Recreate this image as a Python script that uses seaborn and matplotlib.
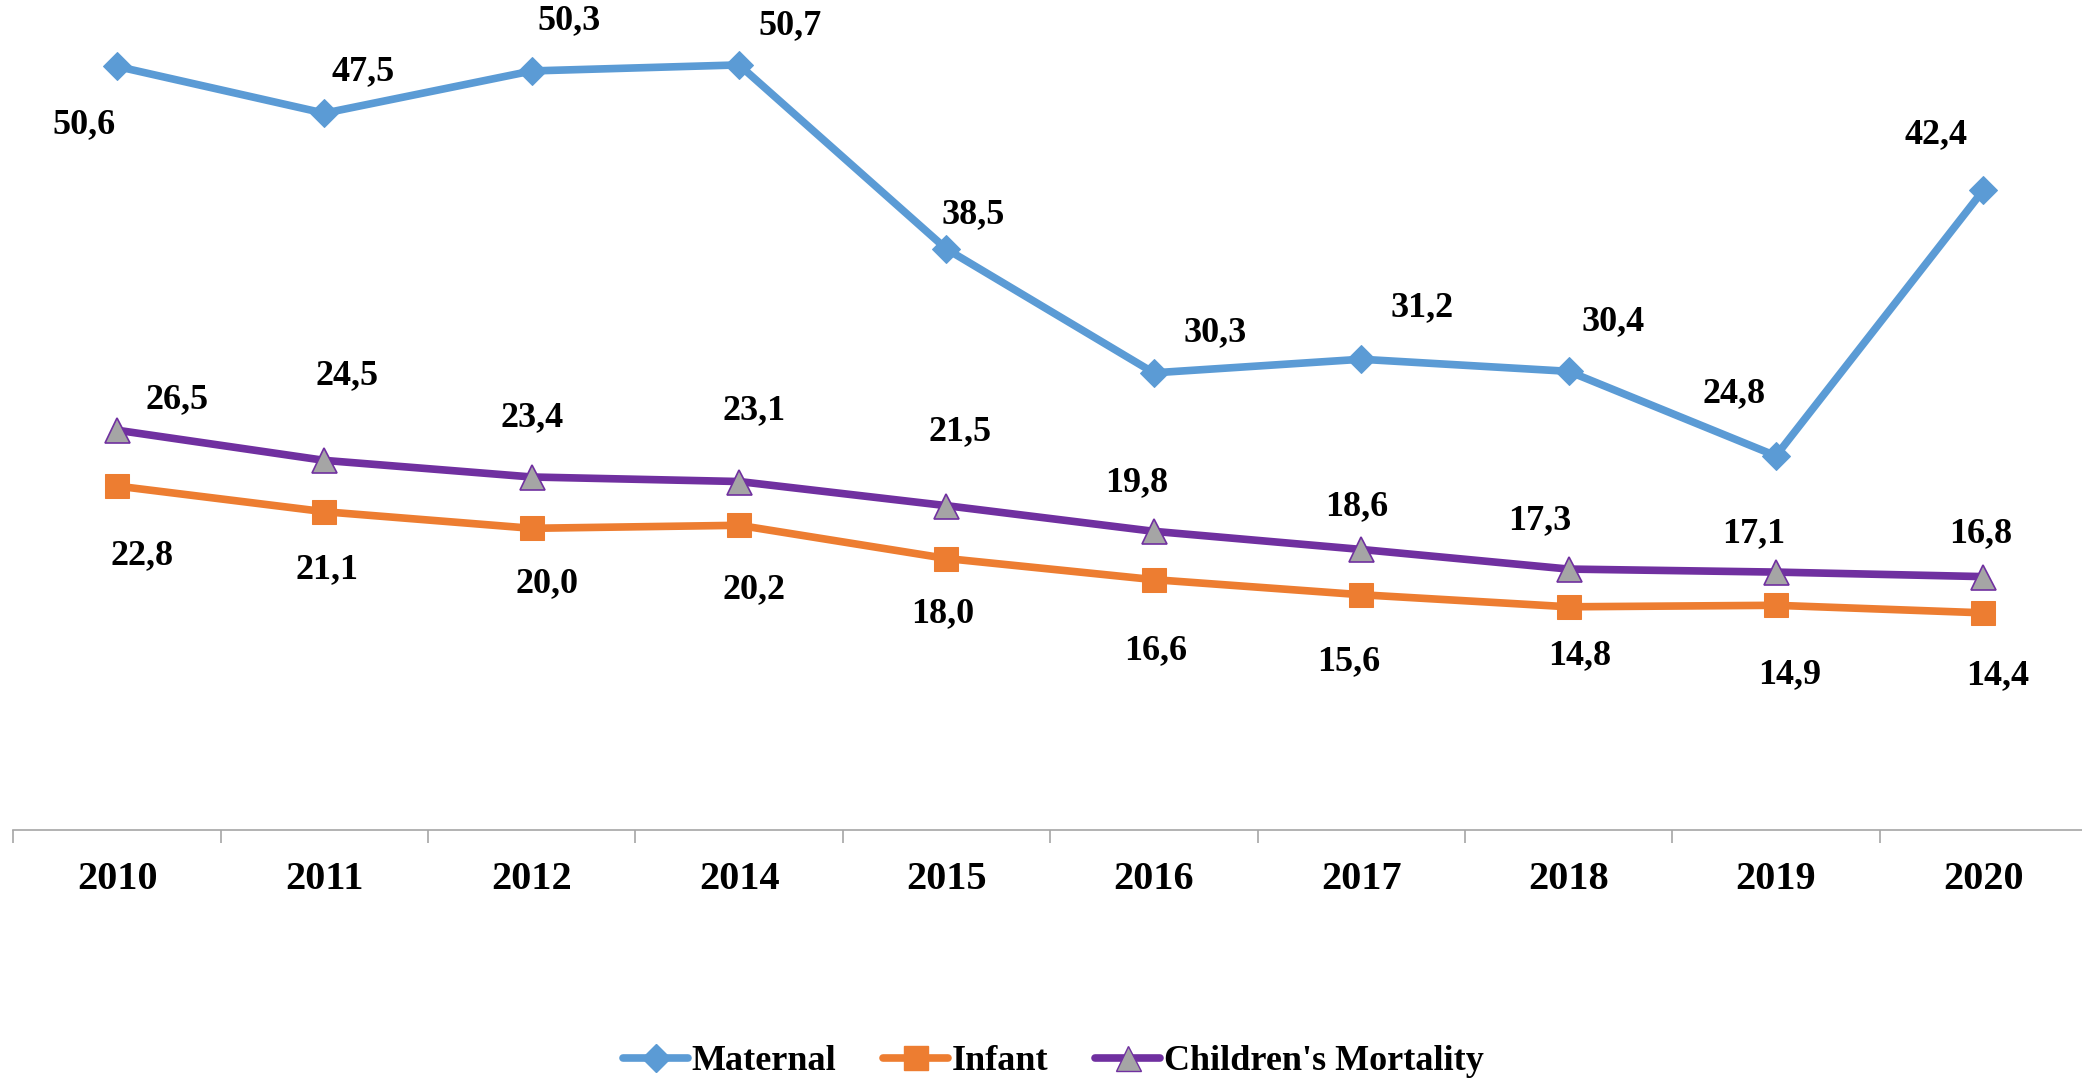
import numpy as np
import pandas as pd
import matplotlib
matplotlib.use("Agg")
import matplotlib.pyplot as plt
import seaborn as sns
from matplotlib.lines import Line2D

# Chart data
years = ["2010", "2011", "2012", "2014", "2015", "2016", "2017", "2018", "2019", "2020"]
maternal = [50.6, 47.5, 50.3, 50.7, 38.5, 30.3, 31.2, 30.4, 24.8, 42.4]
infant = [22.8, 21.1, 20.0, 20.2, 18.0, 16.6, 15.6, 14.8, 14.9, 14.4]
children = [26.5, 24.5, 23.4, 23.1, 21.5, 19.8, 18.6, 17.3, 17.1, 16.8]

# label offsets (points) as placed in the original
maternal_off = [(-24, -42), (28, 30), (27, 36), (37, 28), (19, 25), (44, 29), (44, 37), (32, 36), (-30, 45), (-34, 40)]
children_off = [(43, 22), (16, 61), (0, 43), (11, 51), (10, 53), (-12, 35), (-3, 31), (-21, 35), (-16, 28), (-2, 31)]
infant_off = [(18, -50), (2, -42), (11, -40), (11, -46), (-3, -40), (1, -51), (-9, -48), (8, -35), (10, -50), (10, -45)]

sns.set_style("white")
plt.rcParams["font.family"] = ["Liberation Serif", "DejaVu Serif"]
plt.rcParams["text.color"] = "black"
plt.rcParams["xtick.color"] = "#A6A6A6"
plt.rcParams["xtick.labelcolor"] = "black"

fig = plt.figure(figsize=(20.82, 10.81), dpi=100)
ax = fig.add_axes([0.0064, 0.232, 0.9960, 0.768])

x = np.arange(len(years))
df = pd.DataFrame({"x": x, "Maternal": maternal, "Infant": infant, "Children": children})

blue = "#5B9BD5"
orange = "#ED7D31"
purple = "#7030A0"
grey = "#A5A5A5"
lw = 5.5

sns.lineplot(data=df, x="x", y="Maternal", ax=ax, color=blue, linewidth=lw,
             marker="D", markersize=14, markeredgecolor=blue, markerfacecolor=blue)
sns.lineplot(data=df, x="x", y="Infant", ax=ax, color=orange, linewidth=lw,
             marker="s", markersize=17, markeredgecolor=orange, markerfacecolor=orange)
sns.lineplot(data=df, x="x", y="Children", ax=ax, color=purple, linewidth=lw,
             marker="^", markersize=18, markeredgecolor=purple, markerfacecolor=grey,
             markeredgewidth=1.2)

def fmt(v):
    return f"{v:.1f}".replace(".", ",")

for vals, offs in [(maternal, maternal_off), (children, children_off), (infant, infant_off)]:
    for i, v in enumerate(vals):
        ax.annotate(fmt(v), (i, v), xytext=offs[i], textcoords="offset points",
                    ha="center", va="center", fontsize=26, fontweight="bold", color="black")

ax.set_xlim(-0.5, len(years) - 0.5)
ax.set_ylim(0, 55)
ax.set_xticks(x)
ax.set_xticklabels(years, fontsize=29, fontweight="bold", color="black")
ax.set_xticks(np.arange(-0.5, len(years)), minor=True)
ax.tick_params(axis="x", which="major", bottom=False, length=0, pad=22)
ax.tick_params(axis="x", which="minor", bottom=True, length=9, width=1.2,
               color="#A6A6A6", direction="out")
ax.set_yticks([])
ax.set_xlabel("")
ax.set_ylabel("")
for s in ["top", "right", "left"]:
    ax.spines[s].set_visible(False)
ax.spines["bottom"].set_color("#A6A6A6")
ax.spines["bottom"].set_linewidth(1.2)

handles = [
    Line2D([], [], color=blue, linewidth=lw, marker="D", markersize=14, markerfacecolor=blue, markeredgecolor=blue),
    Line2D([], [], color=orange, linewidth=lw, marker="s", markersize=17, markerfacecolor=orange, markeredgecolor=orange),
    Line2D([], [], color=purple, linewidth=lw, marker="^", markersize=18, markerfacecolor=grey, markeredgecolor=purple),
]
fig.legend(handles, ["Maternal", "Infant", "Children's Mortality"], loc="center",
           bbox_to_anchor=(0.506, 0.018), ncol=3, frameon=False,
           prop={"size": 26, "weight": "bold"}, handlelength=1.8, handletextpad=0.1,
           columnspacing=1.3)

fig.savefig("out.png", dpi=100)
